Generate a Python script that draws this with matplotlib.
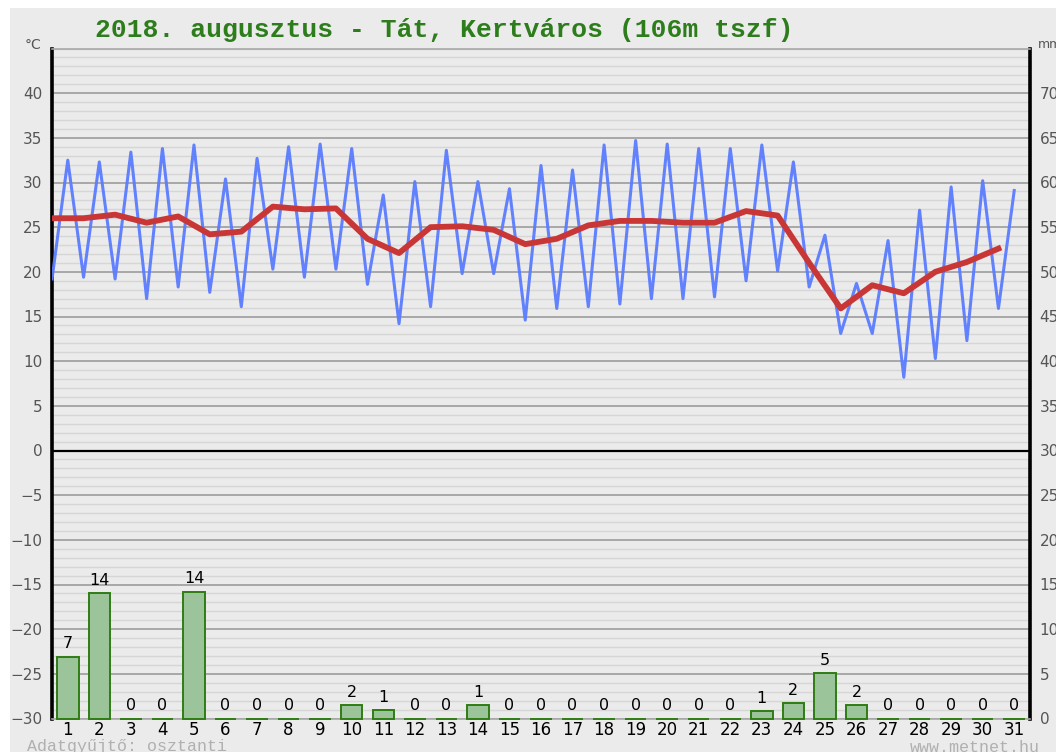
import matplotlib
matplotlib.use("Agg")
import matplotlib.pyplot as plt
from matplotlib.patches import Rectangle
from matplotlib.ticker import MultipleLocator

# napi adatok, 2018. augusztus
days = list(range(1, 32))
t_min = [19.2, 19.4, 19.2, 17.0, 18.3, 17.7, 16.1, 20.3, 19.4, 20.3,
         18.6, 14.2, 16.1, 19.8, 19.8, 14.6, 15.9, 16.1, 16.4, 17.0,
         17.0, 17.2, 19.0, 20.1, 18.3, 13.1, 13.1, 8.2, 10.3, 12.3, 15.9]
t_max = [32.5, 32.3, 33.4, 33.8, 34.2, 30.4, 32.7, 34.0, 34.3, 33.8,
         28.6, 30.1, 33.6, 30.1, 29.3, 31.9, 31.4, 34.2, 34.7, 34.3,
         33.8, 33.8, 34.2, 32.3, 24.1, 18.7, 23.5, 26.9, 29.5, 30.2, 29.1]
t_mean = [26.0, 26.0, 26.4, 25.5, 26.2, 24.2, 24.5, 27.3, 27.0, 27.1,
          23.7, 22.1, 25.0, 25.1, 24.7, 23.1, 23.7, 25.2, 25.7, 25.7,
          25.5, 25.5, 26.8, 26.3, 21.0, 15.9, 18.5, 17.6, 20.0, 21.1, 22.6]
precip = [6.9, 14.0, 0, 0, 14.2, 0, 0, 0, 0, 1.5,
          0.9, 0, 0, 1.5, 0, 0, 0, 0, 0, 0,
          0, 0, 0.8, 1.7, 5.1, 1.5, 0, 0, 0, 0, 0]
precip_labels = ["7", "14", "0", "0", "14", "0", "0", "0", "0", "2",
                 "1", "0", "0", "1", "0", "0", "0", "0", "0", "0",
                 "0", "0", "1", "2", "5", "2", "0", "0", "0", "0", "0"]
temp_ticks = list(range(-30, 45, 5))
mm_ticks = list(range(0, 75, 5))

title = "2018. augusztus - Tát, Kertváros (106m tszf)"

# min a nap elején (fél nappal korábban), max a nap közepén
zig_x, zig_y = [], []
for d, lo, hi in zip(days, t_min, t_max):
    zig_x += [d - 0.5, d]
    zig_y += [lo, hi]
mean_x = [d - 0.5 for d in days]

fig = plt.figure(figsize=(10.56, 7.52), dpi=100, facecolor="white")
fig.patches.append(Rectangle((10 / 1056, 0), 1, 1 - 8 / 752,
                             transform=fig.transFigure, facecolor="#ebebeb",
                             edgecolor="none", zorder=-10))

ax = fig.add_axes([52 / 1056, 1 - 718.5 / 752, 978 / 1056, 670 / 752])
ax.set_facecolor("#ebebeb")
ax.set_xlim(0.5, 31.5)
ax.set_ylim(-30, 45)
ax.set_yticks(temp_ticks)
ax.yaxis.set_minor_locator(MultipleLocator(1))
ax.grid(which="major", axis="y", color="#a8a8a8", linewidth=1.4, zorder=0)
ax.grid(which="minor", axis="y", color="#d6d6d6", linewidth=1.0, zorder=0)
ax.set_axisbelow(True)
ax.axhline(0, color="black", linewidth=1.6, zorder=2)
ax.tick_params(axis="y", which="both", length=0, labelsize=11,
               labelcolor="#555555", pad=7)
ax.set_xticks(days)
ax.tick_params(axis="x", length=0, labelsize=12, labelcolor="black", pad=2)

ax.plot(zig_x, zig_y, color="#5b7cff", linewidth=2.2, alpha=0.95, zorder=3)
ax.plot(mean_x, t_mean, color="#c93636", linewidth=4.2, zorder=4,
        solid_joinstyle="round")

for side in ["left", "right"]:
    ax.spines[side].set_linewidth(2.6)
    ax.spines[side].set_color("black")
for side in ["top", "bottom"]:
    ax.spines[side].set_linewidth(1.2)
    ax.spines[side].set_color("#a8a8a8")

ax2 = ax.twinx()
ax2.set_ylim(0, 75)
ax2.set_yticks(mm_ticks)
ax2.tick_params(axis="y", length=0, labelsize=11, labelcolor="#555555", pad=7)
for side in ax2.spines:
    ax2.spines[side].set_visible(False)
bars = ax2.bar(days, precip, width=0.68, bottom=0, facecolor="#9cc49a",
               edgecolor="#2f7d14", linewidth=1.4, zorder=3)
for b in bars:
    b.set_clip_on(False)
for d, h, lab in zip(days, precip, precip_labels):
    ax2.text(d, h + 0.6, lab, ha="center", va="bottom", fontsize=11.5,
             color="black")

fig.text(25 / 1056, 1 - 45 / 752, "°C", fontsize=10, color="#555555",
         ha="left", va="center")
fig.text(1038 / 1056, 1 - 45 / 752, "mm", fontsize=9, color="#555555",
         ha="left", va="center")
fig.text(95 / 1056, 1 - 30 / 752, title, fontsize=19, fontweight="bold",
         family="Liberation Mono", color="#2e7d1c", ha="left", va="center")
fig.text(27 / 1056, 1 - 747 / 752, "Adatgyűjtő: osztanti", fontsize=12,
         family="Liberation Mono", color="#b0b0b0", ha="left", va="center")
fig.text(1040 / 1056, 1 - 747 / 752, "www.metnet.hu", fontsize=12,
         family="Liberation Mono", color="#b0b0b0", ha="right", va="center")

fig.savefig("out.png", dpi=100, facecolor=fig.get_facecolor())
